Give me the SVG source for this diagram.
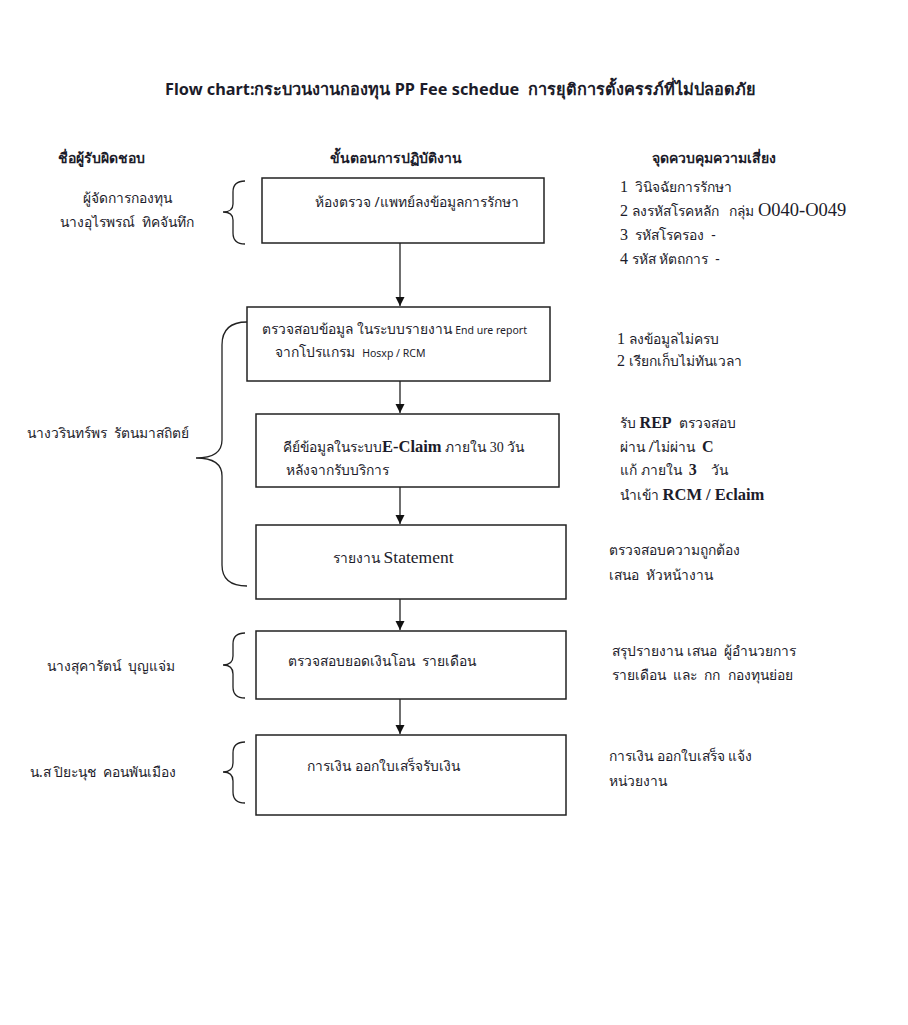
<svg xmlns="http://www.w3.org/2000/svg" width="908" height="1025" viewBox="0 0 908 1025">
<defs>
<style>
text{white-space:pre;}
.t{font-family:"Noto Sans","DejaVu Sans",sans-serif;fill:#1c1c2a;}
.s{font-family:"Liberation Serif","Noto Sans",serif;fill:#1c1c2a;}
.box{fill:#fff;stroke:#222;stroke-width:1.5;}
.br{fill:none;stroke:#222;stroke-width:1.3;}
.ln{stroke:#222;stroke-width:1.3;fill:none;}
</style>
<marker id="ah" viewBox="0 0 10 10" refX="10" refY="5" markerWidth="7" markerHeight="7" orient="auto"><path d="M0,0 L10,5 L0,10 z" fill="#111"/></marker>
</defs>
<rect width="908" height="1025" fill="#fff"/>
<text class="t" x="165" y="95" font-size="16.3" font-weight="bold">Flow chart:กระบวนงานกองทุน PP Fee schedue  การยุติการตั้งครรภ์ที่ไม่ปลอดภัย</text>
<g id="headers" font-size="14" font-weight="bold">
<text class="t" x="58" y="163">ชื่อผู้รับผิดชอบ</text>
<text class="t" x="330" y="163">ขั้นตอนการปฏิบัติงาน</text>
<text class="t" x="652" y="163">จุดควบคุมความเสี่ยง</text>
</g>
<g id="connectors">
<line class="ln" x1="400" y1="243" x2="400" y2="306" marker-end="url(#ah)"/>
<line class="ln" x1="400" y1="381" x2="400" y2="413" marker-end="url(#ah)"/>
<line class="ln" x1="400" y1="487" x2="400" y2="524" marker-end="url(#ah)"/>
<line class="ln" x1="400" y1="599" x2="400" y2="630" marker-end="url(#ah)"/>
<line class="ln" x1="400" y1="699" x2="400" y2="734" marker-end="url(#ah)"/>
</g>
<g id="braces">
<path class="br" d="M245,181 Q233,181 233,192 L233,204 Q233,212 223,212 Q233,212 233,220 L233,233 Q233,244 245,244"/>
<path class="br" d="M247,322 Q222,322 222,345 L222,440 Q222,458 196,458 Q222,458 222,476 L222,565 Q222,586 247,586"/>
<path class="br" d="M245,633 Q233,633 233,644 L233,656 Q233,665 223,665 Q233,665 233,674 L233,687 Q233,698 245,698"/>
<path class="br" d="M245,742 Q233,742 233,753 L233,763 Q233,772 223,772 Q233,772 233,781 L233,792 Q233,803 245,803"/>
</g>
<g id="n1">
<rect class="box" x="262" y="178" width="282" height="65"/>
<text class="t" x="315" y="207" font-size="13.8">ห้องตรวจ /แพทย์ลงข้อมูลการรักษา</text>
</g>
<g id="n2">
<rect class="box" x="247" y="307" width="303" height="74"/>
<text class="t" x="262" y="334" font-size="13.8">ตรวจสอบข้อมูล ในระบบรายงาน <tspan font-size="10.5">End ure report</tspan></text>
<text class="t" x="275" y="357" font-size="13.8">จากโปรแกรม  <tspan font-size="10.5">Hosxp / RCM</tspan></text>
</g>
<g id="n3">
<rect class="box" x="256" y="414" width="303" height="73"/>
<text class="t" x="283" y="452" font-size="13.8">คีย์ข้อมูลในระบบ<tspan class="s" font-size="16.5" font-weight="bold">E-Claim</tspan> ภายใน <tspan class="s" font-size="14">30</tspan> วัน</text>
<text class="t" x="286" y="475" font-size="13.8">หลังจากรับบริการ</text>
</g>
<g id="n4">
<rect class="box" x="256" y="525" width="310" height="74"/>
<text class="t" x="333" y="563" font-size="13.8">รายงาน <tspan class="s" font-size="17.5">Statement</tspan></text>
</g>
<g id="n5">
<rect class="box" x="256" y="631" width="310" height="68"/>
<text class="t" x="288" y="666" font-size="13.8">ตรวจสอบยอดเงินโอน  รายเดือน</text>
</g>
<g id="n6">
<rect class="box" x="256" y="735" width="310" height="80"/>
<text class="t" x="307" y="771" font-size="13.8">การเงิน ออกใบเสร็จรับเงิน</text>
</g>
<g id="left" font-size="13.8">
<text class="t" x="127" y="203" text-anchor="middle">ผู้จัดการกองทุน</text>
<text class="t" x="127" y="227" text-anchor="middle">นางอุไรพรณ์  ทิคจันทึก</text>
<text class="t" x="27" y="438">นางวรินทร์พร  รัตนมาสถิตย์</text>
<text class="t" x="47" y="671">นางสุคารัตน์  บุญแจ่ม</text>
<text class="t" x="30" y="777">น.ส ปิยะนุช  คอนพันเมือง</text>
</g>
<g id="right" font-size="13.8">
<text class="t" x="620" y="192"><tspan class="s" font-size="16">1</tspan>  วินิจฉัยการรักษา</text>
<text class="t" x="620" y="216"><tspan class="s" font-size="16">2</tspan> ลงรหัสโรคหลัก   กลุ่ม <tspan class="s" font-size="18.5">O040-O049</tspan></text>
<text class="t" x="620" y="240"><tspan class="s" font-size="16">3</tspan>  รหัสโรครอง  -</text>
<text class="t" x="620" y="264"><tspan class="s" font-size="16">4</tspan> รหัส หัตถการ  -</text>
<text class="t" x="617" y="344"><tspan class="s" font-size="16">1</tspan> ลงข้อมูลไม่ครบ</text>
<text class="t" x="617" y="366"><tspan class="s" font-size="16">2</tspan> เรียกเก็บไม่ทันเวลา</text>
<text class="t" x="620" y="428">รับ <tspan class="s" font-size="16" font-weight="bold">REP</tspan>  ตรวจสอบ</text>
<text class="t" x="620" y="452">ผ่าน /ไม่ผ่าน  <tspan class="s" font-size="16" font-weight="bold">C</tspan></text>
<text class="t" x="620" y="475">แก้ ภายใน  <tspan class="s" font-size="16" font-weight="bold">3</tspan>    วัน</text>
<text class="t" x="620" y="500">นำเข้า <tspan class="s" font-size="16.5" font-weight="bold">RCM / Eclaim</tspan></text>
<text class="t" x="609" y="555">ตรวจสอบความถูกต้อง</text>
<text class="t" x="609" y="580">เสนอ  หัวหน้างาน</text>
<text class="t" x="612" y="656">สรุปรายงาน เสนอ  ผู้อำนวยการ</text>
<text class="t" x="612" y="680">รายเดือน  และ  กก  กองทุนย่อย</text>
<text class="t" x="609" y="761">การเงิน ออกใบเสร็จ แจ้ง</text>
<text class="t" x="609" y="786">หน่วยงาน</text>
</g>
</svg>
